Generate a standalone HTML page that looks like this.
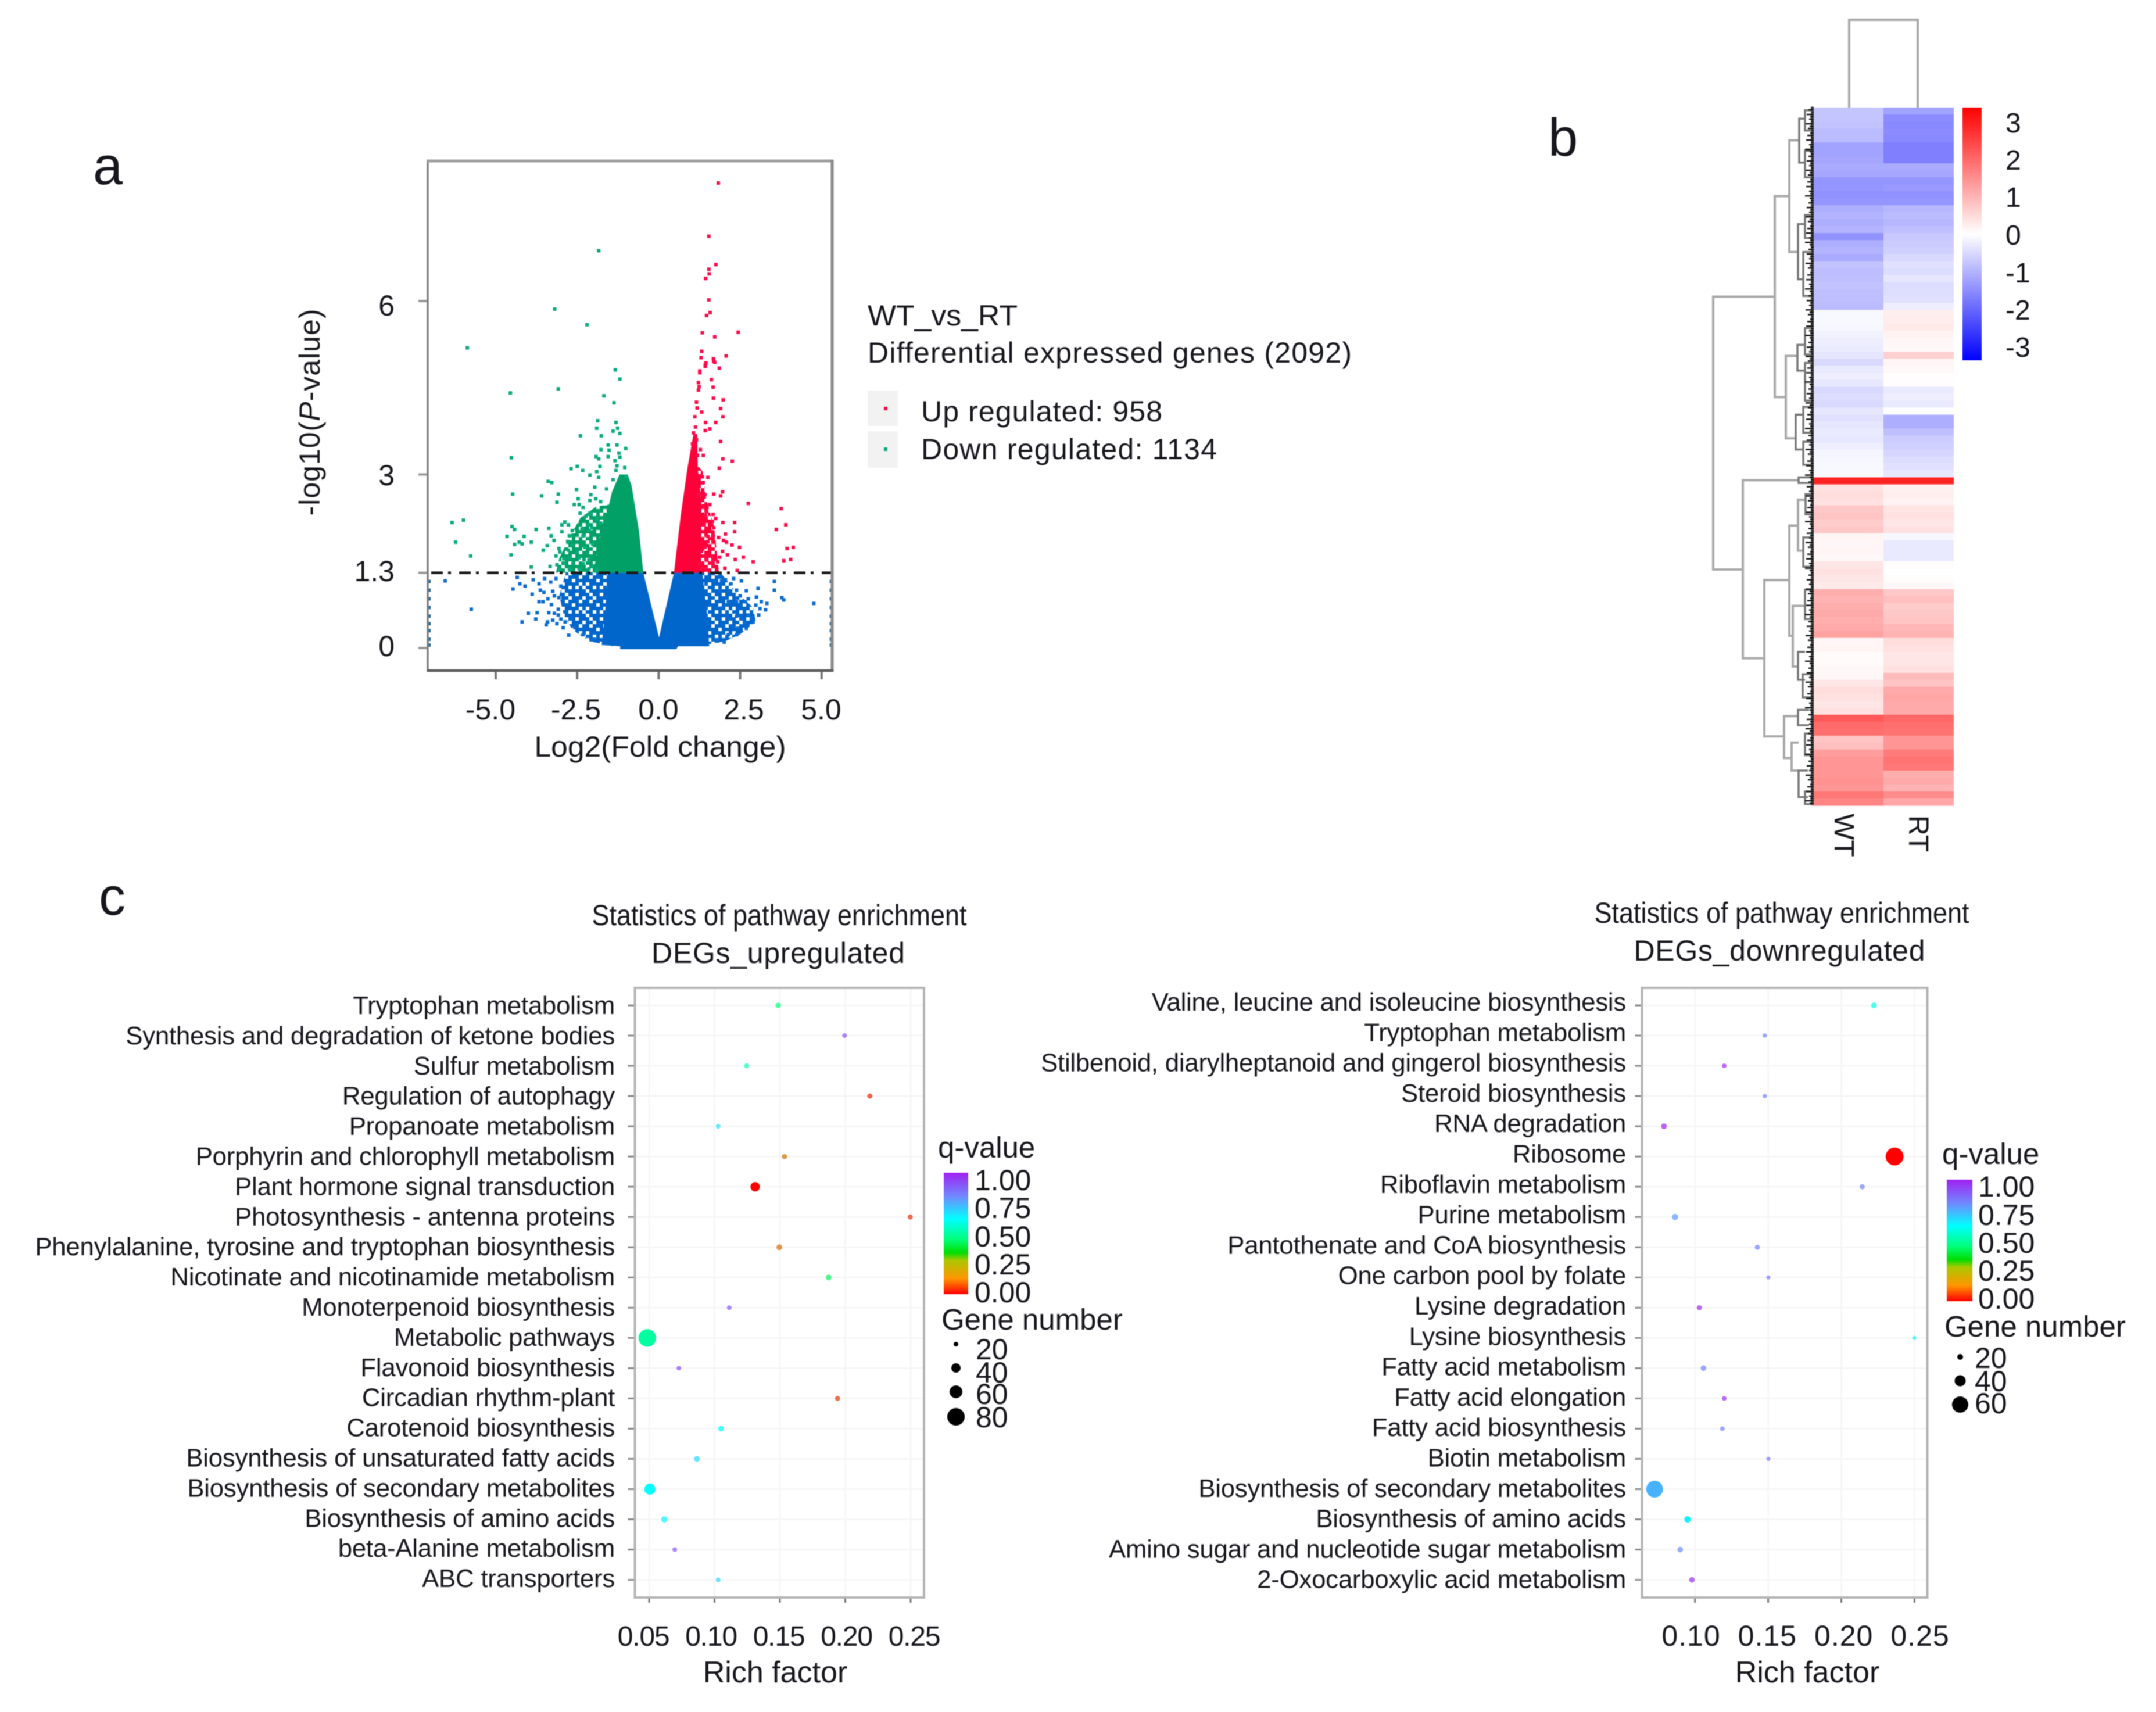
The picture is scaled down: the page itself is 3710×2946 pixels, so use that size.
<!DOCTYPE html>
<html lang="en">
<head>
<meta charset="utf-8">
<title>Volcano plot, heatmap and pathway enrichment panels</title>
<style>
html,body{margin:0;padding:0;background:#fff;}
svg{display:block;filter:blur(0.9px);}
text{font-family:"Liberation Sans",sans-serif;fill:#16161c;}
</style>
</head>
<body>
<svg id="figure" xmlns="http://www.w3.org/2000/svg" width="3710" height="2946" viewBox="0 0 3710 2946">
<defs>
<linearGradient id="heatBar" x1="0" y1="0" x2="0" y2="1">
<stop offset="0" stop-color="#ff0000"/><stop offset="0.5" stop-color="#ffffff"/><stop offset="1" stop-color="#0000ff"/>
</linearGradient>
<linearGradient id="qBar" x1="0" y1="0" x2="0" y2="1">
<stop offset="0" stop-color="#a020f0"/><stop offset="0.2" stop-color="#6e8cff"/><stop offset="0.38" stop-color="#00ffff"/><stop offset="0.55" stop-color="#00ff78"/><stop offset="0.66" stop-color="#00dc00"/><stop offset="0.72" stop-color="#aac800"/><stop offset="0.87" stop-color="#ff9600"/><stop offset="1" stop-color="#ff0000"/>
</linearGradient>
<g id="speckleHoles" fill="#ffffff">
<rect x="0" y="6" width="6" height="6"/><rect x="12" y="0" width="6" height="6"/><rect x="24" y="12" width="6" height="6"/><rect x="36" y="18" width="6" height="6"/><rect x="6" y="24" width="6" height="6"/><rect x="18" y="30" width="6" height="6"/><rect x="30" y="36" width="6" height="6"/><rect x="0" y="36" width="6" height="6"/><rect x="12" y="18" width="6" height="6"/><rect x="36" y="0" width="6" height="6"/><rect x="6" y="12" width="6" height="6"/><rect x="30" y="24" width="6" height="6"/><rect x="24" y="0" width="6" height="6"/>
</g>
<pattern id="speckleGreen" patternUnits="userSpaceOnUse" width="42" height="42"><rect width="42" height="42" fill="#00a066"/><use href="#speckleHoles"/></pattern>
<pattern id="speckleRed" patternUnits="userSpaceOnUse" width="42" height="42"><rect width="42" height="42" fill="#ff0038"/><use href="#speckleHoles"/></pattern>
<pattern id="speckleBlue" patternUnits="userSpaceOnUse" width="42" height="42"><rect width="42" height="42" fill="#0066cc"/><use href="#speckleHoles"/></pattern>
</defs>
<rect x="0" y="0" width="3710" height="2946" fill="#ffffff"/>

<text x="160" y="317" font-size="92">a</text>
<text x="2664" y="268" font-size="92">b</text>
<text x="170" y="1574" font-size="92">c</text>

<g id="volcano"></g>
<g font-size="50">
<text x="679" y="543" text-anchor="end">6</text>
<text x="679" y="835" text-anchor="end">3</text>
<text x="679" y="1000" text-anchor="end">1.3</text>
<text x="679" y="1129" text-anchor="end">0</text>
<text x="844" y="1238" text-anchor="middle">-5.0</text>
<text x="991" y="1238" text-anchor="middle">-2.5</text>
<text x="1133" y="1238" text-anchor="middle">0.0</text>
<text x="1280" y="1238" text-anchor="middle">2.5</text>
<text x="1413" y="1238" text-anchor="middle">5.0</text>
<text x="1136" y="1302" text-anchor="middle" textLength="433" lengthAdjust="spacingAndGlyphs">Log2(Fold change)</text>
<text transform="translate(550,709) rotate(-90)" text-anchor="middle" letter-spacing="1">-log10(<tspan font-style="italic">P</tspan>-value)</text>
<text x="1493" y="560" textLength="258" lengthAdjust="spacingAndGlyphs">WT_vs_RT</text>
<text x="1493" y="624" textLength="833" lengthAdjust="spacing">Differential expressed genes  (2092)</text>
<text x="1585" y="725" textLength="415" lengthAdjust="spacing">Up regulated:  958</text>
<text x="1585" y="790" textLength="509" lengthAdjust="spacing">Down regulated:  1134</text>
</g>

<g id="heatmap"></g>
<g>
<rect x="3377" y="185" width="33" height="435" fill="url(#heatBar)"/>
<g font-size="48">
<text x="3451" y="228">3</text>
<text x="3451" y="292">2</text>
<text x="3451" y="356">1</text>
<text x="3451" y="421">0</text>
<text x="3451" y="486">-1</text>
<text x="3451" y="550">-2</text>
<text x="3451" y="614">-3</text>
<text transform="translate(3157,1400) rotate(90)">WT</text>
<text transform="translate(3285,1403) rotate(90)">RT</text>
</g>
</g>

<g font-size="50">
<text x="1341" y="1592" text-anchor="middle" textLength="645" lengthAdjust="spacingAndGlyphs">Statistics of pathway  enrichment</text>
<text x="1339" y="1657" text-anchor="middle" textLength="436" lengthAdjust="spacing">DEGs_upregulated</text>
<text x="3066" y="1588" text-anchor="middle" textLength="645" lengthAdjust="spacingAndGlyphs">Statistics of pathway  enrichment</text>
<text x="3062" y="1653" text-anchor="middle" textLength="501" lengthAdjust="spacing">DEGs_downregulated</text>
</g>
<g id="bubbleUp"></g>
<g id="bubbleDown"></g>

<g font-size="50">
<text x="1614" y="1992" font-size="51">q-value</text>
<rect x="1624" y="2018" width="42" height="209" fill="url(#qBar)"/>
<text x="1677" y="2048">1.00</text>
<text x="1677" y="2096">0.75</text>
<text x="1677" y="2145">0.50</text>
<text x="1677" y="2193">0.25</text>
<text x="1677" y="2241">0.00</text>
<text x="1620" y="2288" font-size="51">Gene number</text>
<circle cx="1645" cy="2313" r="4" fill="#000"/>
<circle cx="1645" cy="2354" r="8" fill="#000"/>
<circle cx="1645" cy="2395" r="11" fill="#000"/>
<circle cx="1645" cy="2438" r="15" fill="#000"/>
<text x="1679" y="2339">20</text>
<text x="1679" y="2379">40</text>
<text x="1679" y="2416">60</text>
<text x="1679" y="2456">80</text>
</g>
<g font-size="50">
<text x="3342" y="2003" font-size="51">q-value</text>
<rect x="3350" y="2030" width="44" height="209" fill="url(#qBar)"/>
<text x="3404" y="2059">1.00</text>
<text x="3404" y="2108">0.75</text>
<text x="3404" y="2156">0.50</text>
<text x="3404" y="2204">0.25</text>
<text x="3404" y="2252">0.00</text>
<text x="3346" y="2300" font-size="51">Gene number</text>
<circle cx="3373" cy="2335" r="5" fill="#000"/>
<circle cx="3373" cy="2376" r="9.5" fill="#000"/>
<circle cx="3373" cy="2417" r="14" fill="#000"/>
<text x="3398" y="2354">20</text>
<text x="3398" y="2394">40</text>
<text x="3398" y="2432">60</text>
</g>
</svg>

<script>
/* ---------- volcano data: [log2 fold change, -log10 p] ---------- */
const volcanoXTicks = [-5, -2.5, 0, 2.5, 5];
const volcanoYTicks = [0, 1.3, 3, 6];
const significanceLevel = [1.3];
const downCoreEnvelope = [[-.47,1.3],[-.6,2],[-.83,2.8],[-.95,3],[-1.2,3],[-1.43,2.7],[-1.6,2.3],[-1.85,1.8],[-2,1.3]];
const downSparseEnvelope = [[-1.2,1.3],[-1.2,2.5],[-1.9,2.45],[-2.4,2.25],[-2.75,1.9],[-3.05,1.55],[-3.15,1.3]];
const upCoreEnvelope = [[.47,1.3],[.68,2.3],[.89,3.13],[1.07,3.7],[1.18,3.7],[1.2,3.1],[1.31,2.5],[1.3,1.3]];
const upSparseEnvelope = [[1,1.3],[1,3.3],[1.35,3.05],[1.45,2.6],[1.7,2.1],[1.85,1.3]];
const nsCoreEnvelope = [[-1.56,1.3],[-1.65,.55],[-1.75,.05],[-1.18,.03],[-1.18,-.02],[.54,-.02],[.6,.03],[1.55,.03],[1.5,.5],[1.34,1.3],[.47,1.3],[.01,.18],[-.47,1.3]];
const nsLeftEnvelope = [[-1.4,1.3],[-2.85,1.3],[-3.05,.9],[-2.9,.55],[-2.65,.32],[-2.15,.12],[-1.4,.03]];
const nsRightEnvelope = [[1.2,1.3],[1.9,1.3],[2.4,.95],[2.9,.7],[2.98,.45],[2.48,.23],[2.05,.12],[1.2,.03]];
const downPoints = [[-1.84,6.87],[-3.19,5.86],[-2.2,5.59],[-5.87,5.19],[-1.33,4.81],[-1.19,4.65],[-3.08,4.48],[-4.55,4.41],[-1.68,4.36],[-1.37,4.24],[-1.87,3.93],[-1.31,3.9],[-1.9,3.8],[-1.26,3.8],[-1.4,3.75],[-2.4,3.67],[-1.76,3.67],[-1.19,3.71],[-1.55,3.51],[-1.28,3.51],[-1.01,3.45],[-1.77,3.43],[-1.52,3.42],[-1.22,3.37],[-1.92,3.31],[-1.84,3.27],[-1.55,3.31],[-1.19,3.3],[-1.34,3.24],[-4.52,3.29],[-1.8,3.14],[-2.5,3.14],[-2.69,3.1],[-2.33,3.07],[-1.9,3.05],[-2.11,2.99],[-1.84,2.95],[-1.28,3.15],[-1.04,3.12],[-1.31,3.07],[-1.01,2.97],[-3.39,2.88],[-3.28,2.86],[-1.4,2.91],[-1.96,2.78],[-2.52,2.74],[-4.48,2.66],[-3.59,2.63],[-3.08,2.66],[-3.12,2.52],[-1.6,2.75],[-2.08,2.65],[-2.47,2.58],[-2.59,2.48],[-2.44,2.48],[-2.32,2.43],[-2.11,2.55],[-1.93,2.58],[-1.78,2.53],[-2.41,2.33],[-2.11,2.33],[-2.23,2.28],[-1.9,2.23],[-1.78,2.16],[-2.88,2.18],[-2.97,2.13],[-2.77,2.13],[-5.99,2.21],[-6.34,2.17],[-4.5,2.1],[-4.42,2.05],[-3.76,2.05],[-3.37,2.07],[-2.97,2.01],[-2.65,2.03],[-2.35,2.06],[-2.17,2.13],[-2.05,2.08],[-4.65,1.93],[-4.13,1.93],[-3.3,1.94],[-2.74,1.94],[-2.32,1.94],[-2.14,2.03],[-6.23,1.83],[-4.42,1.79],[-4.28,1.83],[-4.19,1.8],[-3.91,1.83],[-3.21,1.86],[-2.79,1.84],[-3.42,1.77],[-3.54,1.69],[-3.06,1.72],[-2.65,1.78],[-2.26,1.74],[-2.02,1.79],[-5.77,1.59],[-4.53,1.61],[-3.15,1.59],[-3.03,1.66],[-2.77,1.69],[-2.5,1.66],[-2.91,1.54],[-2.74,1.56],[-2.44,1.56],[-2.14,1.52],[-3.12,1.44],[-3.91,1.4],[-3.33,1.41],[-2.91,1.46],[-2.63,1.46],[-2.32,1.46],[-2.02,1.42],[-3.03,1.36],[-2.74,1.37],[-2.44,1.37],[-2.14,1.37],[-1.9,1.36]];
const upPoints = [[1.83,8.04],[1.54,7.12],[1.755,6.63],[1.54,6.55],[1.55,6.47],[1.44,6.39],[1.54,6.02],[1.58,5.8],[1.47,5.75],[1.34,5.45],[2.44,5.46],[1.72,5.38],[1.32,5.13],[2.07,5.05],[1.3,5.02],[1.68,5],[1.45,4.93],[1.43,4.87],[1.86,4.84],[1.26,4.79],[1.72,4.94],[1.43,4.89],[1.69,4.96],[1.26,4.76],[1.62,4.64],[1.22,4.59],[1.24,4.52],[1.67,4.51],[1.22,4.46],[1.68,4.32],[1.98,4.29],[1.16,4.25],[1.18,4.15],[1.9,4.14],[1.32,4.08],[1.97,4],[1.11,4],[1.44,3.9],[1.75,3.9],[1.43,3.76],[1.57,3.79],[1.13,3.82],[1.07,3.72],[1.9,3.57],[1.16,3.6],[1.04,3.53],[1.28,3.43],[1.37,3.33],[1.19,3.33],[1.97,3.27],[2.26,3.23],[1.86,3.11],[1.34,2.96],[1.51,2.95],[1.37,2.86],[1.96,2.7],[1.69,2.66],[1.42,2.65],[1.9,2.63],[1.22,2.66],[2.75,2.5],[3.76,2.41],[1.57,2.48],[1.37,2.46],[1.47,2.36],[1.67,2.31],[1.75,2.24],[1.43,2.3],[1.65,2.19],[1.97,2.17],[2.33,2.17],[3.9,2.13],[1.4,2.13],[1.69,2.08],[3.61,2.05],[2.33,2.01],[2.05,1.97],[1.51,1.93],[1.66,1.93],[1.84,1.91],[1.51,1.84],[1.99,1.86],[2.08,1.83],[2.25,1.78],[1.42,1.74],[2.48,1.74],[3.94,1.72],[4.13,1.74],[1.96,1.67],[1.31,1.67],[2.11,1.61],[1.42,1.59],[1.66,1.57],[1.87,1.57],[2.6,1.57],[2.35,1.53],[4.05,1.53],[3.84,1.51],[2.9,1.49],[1.48,1.52],[1.66,1.49],[1.81,1.49],[1.28,1.46],[1.69,1.41],[2.03,1.38],[1.45,1.37],[2.41,1.34],[1.31,1.37]];
const nsPoints = [[-6.55,1.16],[-5.75,.67],[-4.47,1.02],[-4.34,1.22],[-4.26,1.11],[-4.1,1.07],[-3.85,1.18],[-3.67,1.11],[-3.63,1],[-3.88,.93],[-3.52,.96],[-3.31,1.14],[-3.25,.98],[-3,1.07],[-3.4,.85],[-3.67,.8],[-3.06,.87],[-3.29,.75],[-4,.6],[-3.73,.61],[-3.37,.61],[-3.77,.5],[-4.19,.45],[-3.41,.45],[-3.12,.42],[-3.45,.4],[-2.93,.35],[-2.76,.22],[-3.08,.67],[-3.08,.57],[-2.83,.62],[-2.87,.45],[-2.57,.35],[-2.32,.23],[-1.98,.15],[-3.5,1.2],[-3.15,1.2],[-3.2,.9],[-3.55,.8],[-3.2,.6],[-3,.5],[-3.25,.48],[1.93,1.16],[2.22,1.11],[2.54,1.16],[1.89,.99],[2.14,.99],[2.39,1],[2.69,.99],[3.05,1.03],[3.55,1.15],[3.55,1],[3.78,.87],[3.84,.83],[4.76,.77],[3.32,.77],[3.15,.8],[2.98,.74],[3.11,.68],[3.28,.66],[2.14,.8],[2.39,.8],[2.65,.8],[1.93,.69],[2.39,.55],[2.1,.55],[2.73,.57],[3.07,.57],[2.85,.52],[2.65,.44],[2.9,.45],[2.43,.34],[2.69,.34],[2.14,.23],[2.39,.23],[1.8,.12],[2.01,.1],[2.3,1.2],[2.05,1.18],[2.5,.9],[2.75,.85],[3,.88]];
const edgePoints = [[-7.05,.05],[-7.05,.15],[-7.05,.3],[-7.05,.42],[-7.05,.55],[-7.05,.7],[-7.05,.85],[-7.05,1],[-7.05,1.15],[5.3,.05],[5.3,.15],[5.3,.3],[5.3,.42],[5.3,.55],[5.3,.7],[5.3,.85],[5.3,1],[5.3,1.15]];

/* ---------- heatmap data: z-scores per row ---------- */
const wtValues = [-.7,-.7,-.72,-.8,-.8,-1.1,-1.1,-1.05,-1,-1.05,-1.25,-1.25,-1.3,-1.25,-.95,-.9,-.95,-.9,-1.3,-.95,-.9,-1,-.72,-.78,-.75,-.72,-.75,-.78,-.8,-.08,-.08,-.1,-.15,-.2,-.22,-.3,-.45,-.25,-.2,-.28,-.45,-.4,-.45,-.3,-.35,-.3,-.25,-.28,-.2,-.12,-.1,-.08,-.08,2.6,.35,.4,.35,.65,.7,.6,.65,.12,.1,.12,.08,.3,.35,.3,.25,.95,.9,.95,1,.95,1,1.1,.1,.12,.05,.05,.08,.1,.3,.4,.35,.3,.35,1.95,1.75,1.7,.7,.75,1.15,1.25,1.25,1.25,1.3,1.25,1.6,1.45];
const rtValues = [-1.1,-1.35,-1.4,-1.35,-1.4,-1.5,-1.5,-1.5,-1,-1.05,-1.25,-1.2,-1.3,-1.25,-.85,-.8,-.85,-.75,-.65,-.6,-.55,-.45,-.35,-.4,-.3,-.4,-.4,-.35,-.2,.2,.22,.25,.15,.1,.08,.55,.12,.08,.02,.02,-.25,-.2,-.25,0,-.95,-.95,-.75,-.6,-.55,-.5,-.4,-.35,-.3,2.6,.18,.2,.15,.32,.35,.3,.35,-.1,-.25,-.25,-.25,.03,0,.03,.08,.65,.75,.6,.65,.7,.85,.9,.4,.35,.3,.3,.35,.8,.7,1,1.05,1,1,1.8,1.7,1.65,1.25,1.25,1.55,1.65,1.6,.95,1,.9,1.35,1.05];
/* dendrogram merges: [height, top row, bottom row, top child height, bottom child height] */
const rowMerges = [[173,27.1,66.2,67,122],[67,12.7,41.5,42,48],[42,4.7,20.7,25,27],[48,35.6,47.4,28,31],[122,53.4,78.9,26,85],[85,67.7,90.1,42,51],[42,59.9,75.7,27,36],[27,56.2,63.5,14,18],[36,71.4,80.1,15,27],[51,87.2,93.2,27,38],[38,91,95,26,26],[25,1.6,7.9,15,15],[15,.4,3.3,3,3],[15,6.2,10,3,3],[27,16.7,24.6,15,18],[15,15.4,18.7,3,3],[18,20.7,27,3,3],[28,34,37.7,15,15],[15,31.6,35.4,3,3],[15,36.6,42,3,3],[31,44,49,18,18],[18,42.9,46.6,3,3],[18,47.9,51.2,3,3],[14,55.4,58.3,3,3],[18,61.6,65.8,3,3],[15,69.1,73.3,3,3],[27,78,82,15,15],[19,81.2,84.5,3,3],[27,86.3,88.5,8,8],[15,89.7,92.8,3,3],[26,95,98.8,10,10],[15,98,99.8,3,3],[26,53,53.8,0,0]];
const leafDepths = [5,9,3,12,6,8,4,14,7,10,3,6,11,5,13,4,8,6,15,7];
const columnMergeHeight = [151];

/* ---------- bubble chart data ---------- */
const upPathways = ["Tryptophan metabolism","Synthesis and degradation of ketone bodies","Sulfur metabolism","Regulation of autophagy","Propanoate metabolism","Porphyrin and chlorophyll metabolism","Plant hormone signal transduction","Photosynthesis - antenna proteins","Phenylalanine, tyrosine and tryptophan biosynthesis","Nicotinate and nicotinamide metabolism","Monoterpenoid biosynthesis","Metabolic pathways","Flavonoid biosynthesis","Circadian rhythm-plant","Carotenoid biosynthesis","Biosynthesis of unsaturated fatty acids","Biosynthesis of secondary metabolites","Biosynthesis of amino acids","beta-Alanine metabolism","ABC transporters"];
const upRichFactor = [.1487,.1995,.1246,.2188,.1028,.1535,.1311,.2497,.1496,.1873,.1113,.0486,.0727,.1941,.105,.0866,.0506,.0616,.0696,.1028];
const upQValue = [.45,.9,.52,.05,.66,.15,0,.07,.15,.42,.9,.5,.92,.07,.62,.68,.62,.64,.9,.68];
const upGeneCount = [18,15,16,17,15,17,42,17,20,20,15,80,14,17,20,20,50,22,15,15];
const upXTicks = [.05,.1,.15,.2,.25];
const upXTickLabels = ["0.05","0.10","0.15","0.20","0.25"];
const downPathways = ["Valine, leucine and isoleucine biosynthesis","Tryptophan metabolism","Stilbenoid, diarylheptanoid and gingerol biosynthesis","Steroid biosynthesis","RNA degradation","Ribosome","Riboflavin metabolism","Purine metabolism","Pantothenate and CoA biosynthesis","One carbon pool by folate","Lysine degradation","Lysine biosynthesis","Fatty acid metabolism","Fatty acid elongation","Fatty acid biosynthesis","Biotin metabolism","Biosynthesis of secondary metabolites","Biosynthesis of amino acids","Amino sugar and nucleotide sugar metabolism","2-Oxocarboxylic acid metabolism"];
const downRichFactor = [.2223,.1477,.12,.1477,.0788,.2364,.2143,.0864,.1426,.1502,.103,.2498,.1058,.12,.1187,.1502,.0724,.0949,.0899,.0979];
const downQValue = [.58,.82,.98,.82,1,0,.82,.78,.82,.84,.98,.62,.82,.98,.82,.84,.74,.64,.8,.97];
const downGeneCount = [15,10,11,10,15,66,13,17,13,9,13,9,15,11,11,9,62,22,15,15];
const downXTicks = [.1,.15,.2,.25];
const downXTickLabels = ["0.10","0.15","0.20","0.25"];

/* ---------- helpers ---------- */
const NS = 'http://www.w3.org/2000/svg';
function mk(parent, tag, props, txt) {
  const el = document.createElementNS(NS, tag);
  for (const k in props) el.setAttribute(k, props[k]);
  if (txt !== undefined) el.textContent = txt;
  parent.appendChild(el);
  return el;
}

/* ---------- volcano ---------- */
const vX = fc => 1133.4 + fc * 56.08;
const vY = p => 1115 - p * 99.5;
const pathOf = pts => pts.map(q => vX(q[0]).toFixed(1) + ',' + vY(q[1]).toFixed(1)).join(' ');
const vg = document.getElementById('volcano');

function envelope(pts, color, name) {
  const el = mk(vg, 'polygon', {points: pathOf(pts), fill: color});
  
  
}
function dots(pts, color, name) {
  pts.forEach(q => {
    const el = mk(vg, 'rect', {x: vX(q[0]) - 3, y: vY(q[1]) - 3, width: 6, height: 6, fill: color});
    
    
  });
}
envelope(nsLeftEnvelope, 'url(#speckleBlue)', 'not-significant-left-density');
envelope(nsRightEnvelope, 'url(#speckleBlue)', 'not-significant-right-density');
envelope(nsCoreEnvelope, '#0066cc', 'not-significant-core');
envelope(downSparseEnvelope, 'url(#speckleGreen)', 'down-regulated-sparse-density');
envelope(downCoreEnvelope, '#00a066', 'down-regulated-core');
envelope(upSparseEnvelope, 'url(#speckleRed)', 'up-regulated-sparse-density');
envelope(upCoreEnvelope, '#ff0038', 'up-regulated-core');
dots(nsPoints, '#0a6cd0', 'not-significant-gene');
dots(edgePoints, '#1f6aa8', 'clipped-gene');
dots(downPoints, '#06ab7c', 'down-regulated-gene');
dots(upPoints, '#ff0a48', 'up-regulated-gene');

volcanoXTicks.forEach(t => {
  const el = mk(vg, 'line', {x1: vX(t), x2: vX(t), y1: 1155, y2: 1169, stroke: '#777', 'stroke-width': 4});
  
  
});
volcanoYTicks.forEach(t => {
  const el = mk(vg, 'line', {x1: 720, x2: 736, y1: vY(t), y2: vY(t), stroke: '#999', 'stroke-width': 4});
  
  
});
significanceLevel.forEach(t => {
  const el = mk(vg, 'line', {x1: 742, x2: 1430, y1: vY(t), y2: vY(t), stroke: '#1c1c1c', 'stroke-width': 4.5, 'stroke-dasharray': '20 9 5 14'});
  
  
});
const vFrameL = mk(vg, 'line', {x1: 736, x2: 736, y1: 275, y2: 1156, stroke: '#808080', 'stroke-width': 3.5});


const vFrameT = mk(vg, 'line', {x1: 735, x2: 1433, y1: 277, y2: 277, stroke: '#a0a0a0', 'stroke-width': 5});


const vFrameR = mk(vg, 'line', {x1: 1432, x2: 1432, y1: 275, y2: 1156, stroke: '#8a8a8a', 'stroke-width': 5});


const vFrameB = mk(vg, 'line', {x1: 735, x2: 1434, y1: 1154, y2: 1154, stroke: '#5c5c5c', 'stroke-width': 4.5});



const keyUp = mk(vg, 'rect', {x: 1493, y: 672, width: 52, height: 61, fill: '#f2f2f2'});


const keyDown = mk(vg, 'rect', {x: 1493, y: 742, width: 52, height: 63, fill: '#f2f2f2'});


const keyUpDot = mk(vg, 'rect', {x: 1521, y: 700, width: 6, height: 6, fill: '#ff0a48'});


const keyDownDot = mk(vg, 'rect', {x: 1521, y: 770, width: 6, height: 6, fill: '#06ab7c'});



/* ---------- heatmap ---------- */
const hg = document.getElementById('heatmap');
const rowCount = wtValues.length;
const hRowH = (1386 - 185) / rowCount;
const hRow = r => 185 + r * hRowH;
const hDepth = h => 3121 - h;
function heatColor(v) {
  const f = Math.round(255 * (1 - Math.min(Math.abs(v), 3) / 3));
  return v >= 0 ? 'rgb(255,' + f + ',' + f + ')' : 'rgb(' + f + ',' + f + ',255)';
}
function heatColumn(values, left, width, name) {
  values.forEach((v, i) => {
    const el = mk(hg, 'rect', {x: left, y: hRow(i), width: width, height: hRowH + 0.6, fill: heatColor(v)});
    
    
  });
}
heatColumn(wtValues, 3121, 120, 'heatmap-cell-wt');
heatColumn(rtValues, 3241, 121, 'heatmap-cell-rt');

rowMerges.forEach((m, k) => {
  const w = k < 11 ? 4 : 3.5;
  const c = k < 11 ? '#a9a9a9' : '#777777';
  const d = 'M' + hDepth(m[3]) + ' ' + hRow(m[1]) + 'H' + hDepth(m[0]) + 'V' + hRow(m[2]) + 'H' + hDepth(m[4]);
  const el = mk(hg, 'path', {d: d, fill: 'none', stroke: c, 'stroke-width': w});
  
  
});
const leafSpine = mk(hg, 'line', {x1: 3118.5, x2: 3118.5, y1: 185, y2: 1386, stroke: '#555', 'stroke-width': 5});


for (let i = 0; i < rowCount * 3; i++) {
  const yy = hRow(i / 3);
  const el = mk(hg, 'line', {x1: hDepth(leafDepths[i % leafDepths.length]), x2: 3121, y1: yy, y2: yy, stroke: '#111', 'stroke-width': 2.5});
  
  
}
const colDendro = mk(hg, 'path', {d: 'M3182 185V' + (185 - columnMergeHeight[0]) + 'H3300V185', fill: 'none', stroke: '#a8a8a8', 'stroke-width': 4});



/* ---------- bubble charts ---------- */
const qStopPos = [0,.28,.34,.45,.62,.8,1];
const qStopR = [255,170,0,0,0,110,160];
const qStopG = [0,200,220,255,255,140,32];
const qStopB = [0,0,0,120,255,255,240];
function qColor(q) {
  let i = 0;
  while (i < qStopPos.length - 2 && q > qStopPos[i + 1]) i++;
  const t = (q - qStopPos[i]) / (qStopPos[i + 1] - qStopPos[i]);
  const mix = arr => Math.round(arr[i] + (arr[i + 1] - arr[i]) * t);
  return 'rgb(' + mix(qStopR) + ',' + mix(qStopG) + ',' + mix(qStopB) + ')';
}
function bubbleChart(o) {
  const g = document.getElementById(o.id);
  const rowY = i => 1730 + i * 52.03;
  const plotBg = mk(g, 'rect', {x: o.left, y: 1700, width: o.right - o.left, height: 1049, fill: '#fff'});
  
  
  o.ticks.forEach((t, i) => {
    const grid = mk(g, 'line', {x1: o.x(t), x2: o.x(t), y1: 1702, y2: 2747, stroke: '#f5f5f5', 'stroke-width': 2.5});
    
    
    const tick = mk(g, 'line', {x1: o.x(t), x2: o.x(t), y1: 2749, y2: 2758, stroke: '#777', 'stroke-width': 3});
    
    
    const lab = mk(g, 'text', {x: o.labelX(t), y: 2832, 'text-anchor': 'middle', 'font-size': o.tickFont, 'letter-spacing': o.tickSpacing}, o.tickLabels[i]);
    
    
  });
  o.names.forEach((n, i) => {
    const grid = mk(g, 'line', {x1: o.left, x2: o.right, y1: rowY(i), y2: rowY(i), stroke: '#f5f5f5', 'stroke-width': 2.5});
    
    
    const tick = mk(g, 'line', {x1: o.left - 12, x2: o.left, y1: rowY(i), y2: rowY(i), stroke: '#888', 'stroke-width': 3});
    
    
    const lab = mk(g, 'text', {x: o.labelRight, y: o.labelY(i) + 15, 'text-anchor': 'end', 'font-size': 43.8, 'letter-spacing': -0.25}, n);
    
    
  });
  o.names.forEach((n, i) => {
    const d = o.size(o.genes[i]);
    const tiny = d < 9.5;
    const dot = mk(g, 'circle', {cx: o.x(o.rich[i]), cy: rowY(i), r: (tiny ? d + 2 : d) / 2, fill: qColor(o.q[i]), opacity: tiny ? 0.7 : 1});
    
    
  });
  const frame = mk(g, 'rect', {x: o.left, y: 1700, width: o.right - o.left, height: 1049, fill: 'none', stroke: '#b4b4b4', 'stroke-width': 4});
  
  
  const title = mk(g, 'text', {x: o.titleX, y: 2895, 'text-anchor': 'middle', 'font-size': 52}, 'Rich factor');
  
  
}
bubbleChart({
  id: 'bubbleUp', left: 1092.5, right: 1590, titleX: 1334, labelRight: 1058,
  x: v => 1117 + (v - .05) * 2250,
  labelX: v => 1107 + (v - .05) * 2330,
  labelY: i => 1730 + i * 51.9,
  size: g => .37 * g + .6,
  ticks: upXTicks, tickLabels: upXTickLabels, tickFont: 48, tickSpacing: -1.2,
  names: upPathways, rich: upRichFactor, q: upQValue, genes: upGeneCount
});
bubbleChart({
  id: 'bubbleDown', left: 2825.5, right: 3316.5, titleX: 3110, labelRight: 2798,
  x: v => 2916.7 + (v - .1) * 2518,
  labelX: v => 2910 + (v - .1) * 2627,
  labelY: i => 1724 + i * 52.3,
  size: g => .45 * g + 1,
  ticks: downXTicks, tickLabels: downXTickLabels, tickFont: 50, tickSpacing: 1,
  names: downPathways, rich: downRichFactor, q: downQValue, genes: downGeneCount
});
</script>
</body>
</html>
